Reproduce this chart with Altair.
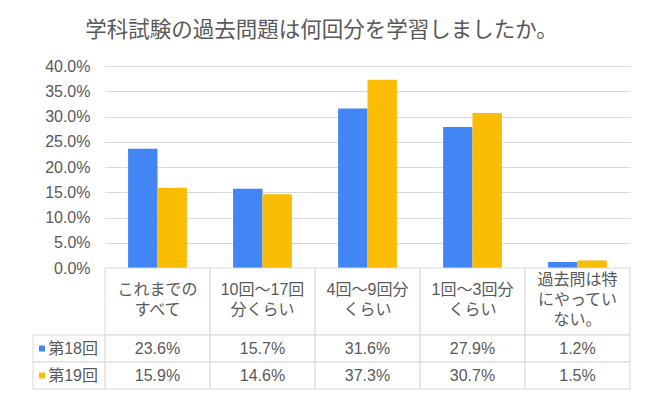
import altair as alt
import pandas as pd

title_text = "学科試験の過去問題は何回分を学習しましたか。"
categories = ["これまでのすべて", "10回～17回分くらい", "4回～9回分くらい", "1回～3回分くらい", "過去問は特にやっていない。"]
header_labels = ["これまでの\nすべて", "10回～17回\n分くらい", "4回～9回分\nくらい", "1回～3回分\nくらい", "過去問は特\nにやってい\nない。"]
series = ["第18回", "第19回"]
values_18 = [23.6, 15.7, 31.6, 27.9, 1.2]
values_19 = [15.9, 14.6, 37.3, 30.7, 1.5]
colors = ["#4285F4", "#FBBC04"]
y_ticks_pct = [0, 5, 10, 15, 20, 25, 30, 35, 40]

FONT = "Liberation Sans, Noto Sans CJK JP, sans-serif"
TXT = "#595959"
GRID = "#d9d9d9"

rows = []
for s, vals in zip(series, [values_18, values_19]):
    for c, v in zip(categories, vals):
        rows.append({"category": c, "series": s, "value": v / 100.0})
df = pd.DataFrame(rows)

# header labels split into lines, each line offset from the cell centre (in line units)
line_rows = []
for c, lab in zip(categories, header_labels):
    parts = lab.split("\n")
    n = len(parts)
    for i, p in enumerate(parts):
        line_rows.append({"category": c, "line": p, "offset": i - (n - 1) / 2.0})
header_lines = pd.DataFrame(line_rows)
header_df = pd.DataFrame({"category": categories})
legend_df = pd.DataFrame({"series": series})

color_scale = alt.Scale(domain=series, range=colors)

HEADER_H = 67
LINE_H = 20

# --- bar panel
x_bar = alt.X("category:N", sort=categories,
              scale=alt.Scale(domain=categories, paddingInner=0.44, paddingOuter=0.22),
              axis=None)
bars = alt.Chart(df).mark_bar().encode(
    x=x_bar,
    xOffset=alt.XOffset("series:N", sort=series, scale=alt.Scale(domain=series, paddingInner=0, paddingOuter=0)),
    y=alt.Y("value:Q", scale=alt.Scale(domain=[0, 0.4]),
            axis=alt.Axis(values=[v / 100.0 for v in y_ticks_pct], format=".1%", title=None,
                          domain=False, ticks=False, labelPadding=15, labelFontSize=16,
                          labelColor=TXT, labelFont=FONT, gridColor=GRID, gridWidth=1)),
    color=alt.Color("series:N", scale=color_scale, legend=None),
).properties(width=525, height=202)

# --- table header panel
x_tab = alt.X("category:N", sort=categories,
              scale=alt.Scale(domain=categories, paddingInner=0, paddingOuter=0), axis=None)
header_cells = alt.Chart(header_df).mark_rect(fill="white", stroke=GRID, strokeWidth=1).encode(x=x_tab)
half = HEADER_H / 2.0 / LINE_H
header_text = alt.Chart(header_lines).mark_text(
    fontSize=16, color=TXT, font=FONT, baseline="middle"
).encode(
    x=x_tab,
    y=alt.Y("offset:Q", scale=alt.Scale(domain=[-half + 0.075, half + 0.075], reverse=True), axis=None),
    text="line:N",
)
header = alt.layer(header_cells, header_text).properties(width=525, height=HEADER_H)

# --- table data panel
y_tab = alt.Y("series:N", sort=series,
              scale=alt.Scale(domain=series, paddingInner=0, paddingOuter=0), axis=None)
cells = alt.Chart(df).mark_rect(fill="white", stroke=GRID, strokeWidth=1).encode(x=x_tab, y=y_tab)
cell_text = alt.Chart(df).mark_text(fontSize=16, color=TXT, font=FONT, baseline="middle").encode(
    x=x_tab, y=y_tab, text=alt.Text("value:Q", format=".1%"))
leg_cells = alt.Chart(legend_df).mark_rect(fill="white", stroke=GRID, strokeWidth=1).encode(
    x=alt.value(-72), x2=alt.value(0), y=y_tab)
leg_sym = alt.Chart(legend_df).mark_point(shape="square", filled=True, size=36, opacity=1).encode(
    x=alt.value(-63), y=y_tab, color=alt.Color("series:N", scale=color_scale, legend=None))
leg_text = alt.Chart(legend_df).mark_text(fontSize=16, color=TXT, font=FONT, align="right",
                                          baseline="middle").encode(
    x=alt.value(-7), y=y_tab, text="series:N")
data_panel = alt.layer(cells, cell_text, leg_cells, leg_sym, leg_text).properties(width=525, height=54)

chart = alt.vconcat(bars, header, data_panel, spacing=0, bounds="flush").properties(
    title=alt.TitleParams(text=title_text, fontSize=21.5, font=FONT, color=TXT, fontWeight="normal",
                          anchor="middle", frame="group", dx=-46, offset=17),
    padding={"left": 24, "top": 11, "right": 5, "bottom": 5},
).configure_view(strokeWidth=0)

chart.save("out.html", embed_options={"renderer": "svg", "actions": False})
